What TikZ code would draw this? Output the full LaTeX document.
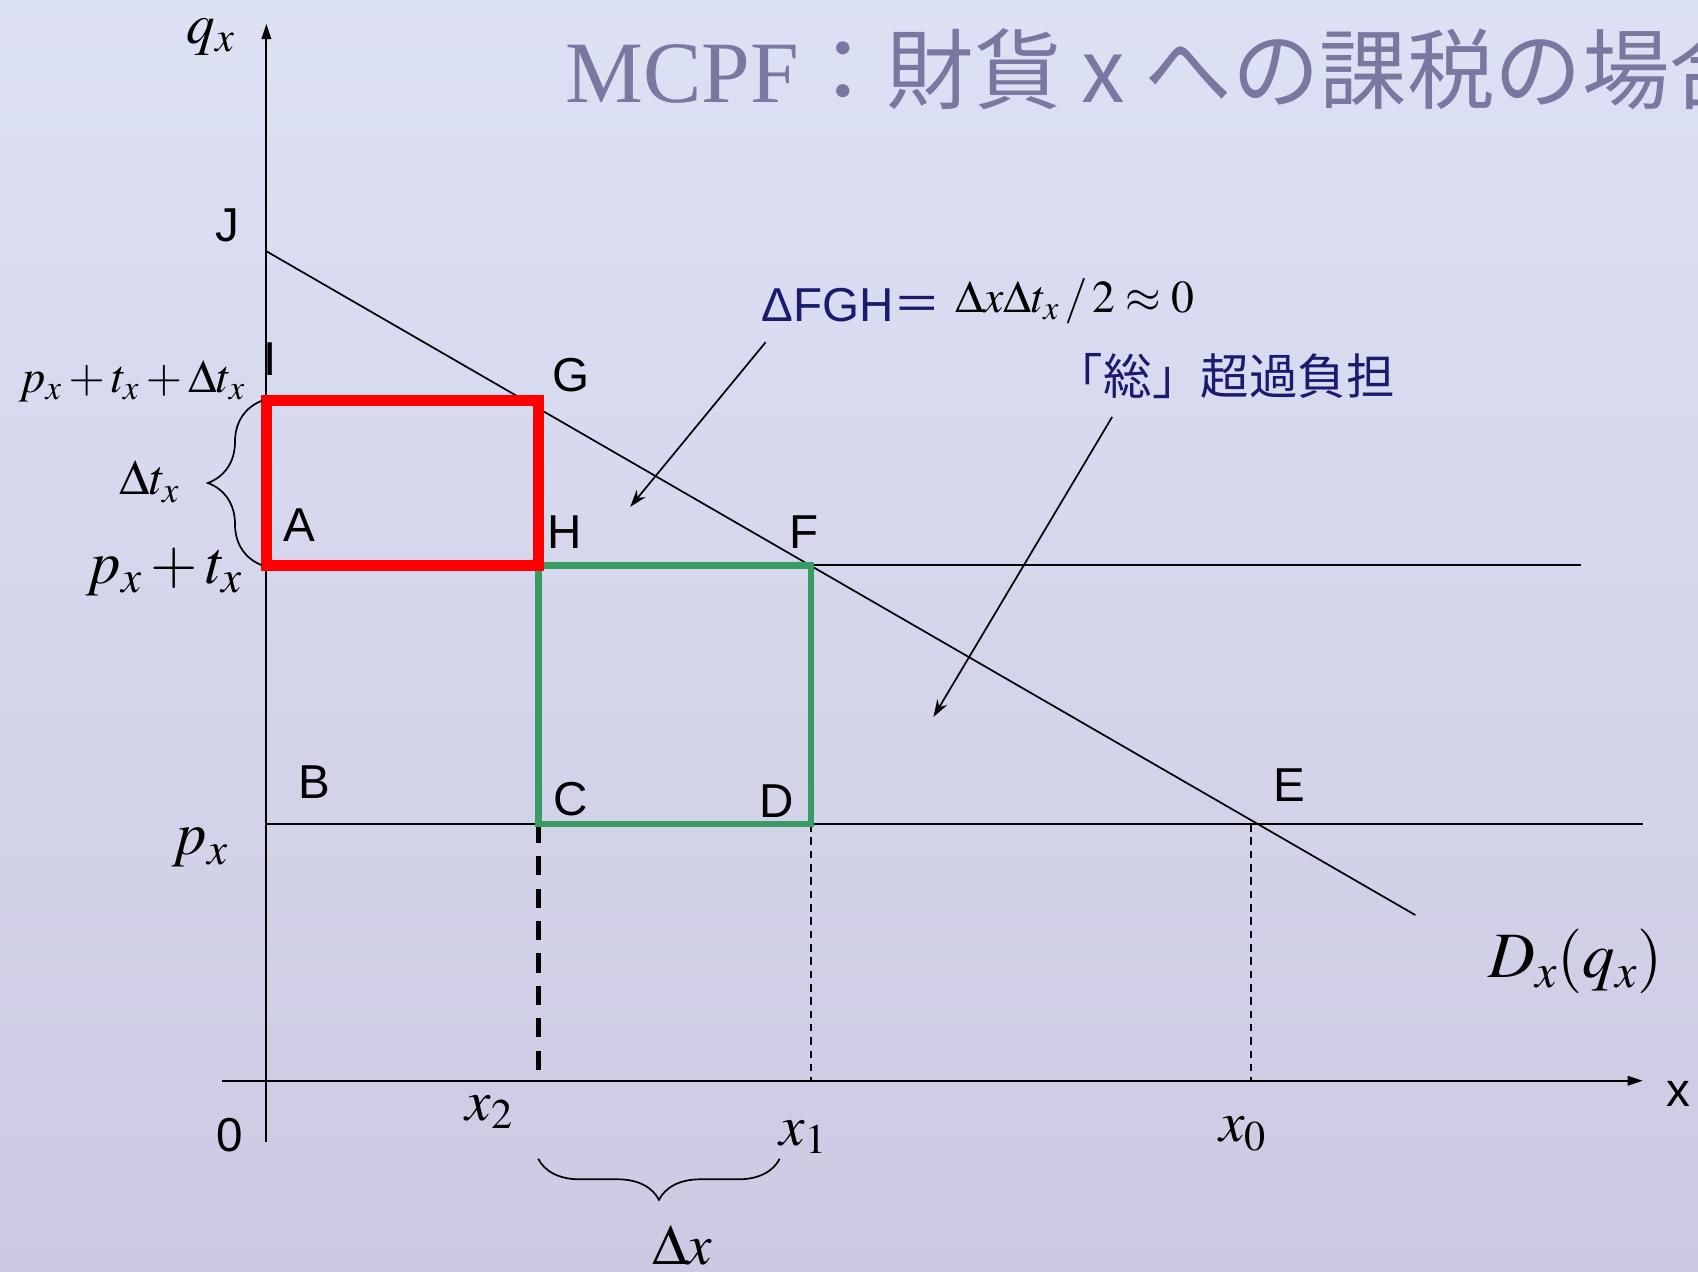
\documentclass[tikz,border=0pt]{standalone}
\usepackage{mathptmx}
\usepackage[no-math]{fontspec}
\setmainfont{Liberation Sans}
\newfontfamily\cjk{Noto Sans CJK JP}
\newfontfamily\serifL{Liberation Serif}
\usetikzlibrary{arrows.meta,decorations.pathreplacing}
\newcommand\myfs[1]{\fontsize{#1}{#1}\selectfont}
\definecolor{bgtop}{RGB}{221,225,244}
\definecolor{bgbot}{RGB}{204,202,227}
\definecolor{navy}{RGB}{26,26,110}
\definecolor{ttl}{RGB}{120,120,160}
\definecolor{grn}{RGB}{56,155,100}
\begin{document}
\begin{tikzpicture}[x=0.02cm,y=-0.02cm,
  lab/.style={font=\myfs{25}, text=black, inner sep=0},
  mlab/.style={inner sep=0, text=black},
  axline/.style={line width=1pt, -{Triangle[length=8pt,width=5pt]}},
  plain/.style={line width=0.9pt},
  thickdash/.style={line width=2.8pt, dash pattern=on 10pt off 7pt},
  thindash/.style={line width=0.8pt, dash pattern=on 4pt off 3pt},
  annarrow/.style={line width=0.9pt, -{Stealth[length=9pt,width=6pt]}},
  bracestyle/.style={line width=0.9pt, decorate},
]
\useasboundingbox (0,0) rectangle (1568,1174);
\shade[top color=bgtop, bottom color=bgbot] (0,0) rectangle (1568,1174);

% coordinates
\coordinate (O) at (246,998);
\coordinate (ytip) at (246,22);
\coordinate (ybot) at (246,1055);
\coordinate (xleft) at (205,998);
\coordinate (xtip) at (1517,998);
\coordinate (Jd) at (246,232);
\coordinate (Dend) at (1307,845);
\coordinate (Bl) at (246,761);
\coordinate (Br) at (1517,761);
\coordinate (Fl) at (749,522);
\coordinate (Fr) at (1460,522);
\coordinate (Rtl) at (246,370);
\coordinate (Rbr) at (497,522);
\coordinate (Gtl) at (497,522);
\coordinate (Gbr) at (749,761);
\coordinate (Cc) at (497,761);
\coordinate (X2) at (497,998);
\coordinate (Dd) at (749,761);
\coordinate (X1) at (749,998);
\coordinate (Ee) at (1155,761);
\coordinate (X0) at (1155,998);

% axes
\draw[axline] (ybot) -- (ytip);
\draw[axline] (xleft) -- (xtip);

% lines
\draw[plain] (Bl) -- (Br);
\draw[plain] (Fl) -- (Fr);
\draw[plain] (Jd) -- (Dend);

% dashed
\draw[thickdash] (Cc) -- (X2);
\draw[thindash] (Dd) -- (X1);
\draw[thindash] (Ee) -- (X0);

% rectangles
\draw[grn, line width=3.5pt] (Gtl) rectangle (Gbr);
\draw[red, line width=5.7pt] (Rtl) rectangle (Rbr);

% braces
\draw[bracestyle, decoration={brace, amplitude=1cm}] (242,522) -- (242,370);
\draw[bracestyle, decoration={brace, amplitude=0.76cm}] (720,1070) -- (497,1070);

% letter labels
\node[lab] (J) at (210,208) {J};
\node[lab] (I) at (249,332) {I};
\node[lab] (G) at (527,346) {G};
\node[lab] (A) at (276,485) {A};
\node[lab] (H) at (521,491) {H};
\node[lab] (F) at (742,491) {F};
\node[lab] (B) at (290,722) {B};
\node[lab] (C) at (527,738) {C};
\node[lab] (D) at (717,740) {D};
\node[lab] (E) at (1191,725) {E};
\node[lab] (zero) at (212,1048) {0};
\node[lab] (xl) at (1550,1010) {x};

% math labels
\node[mlab, font=\myfs{30}] (qx) at (195,34) {$q_x$};
\node[mlab, font=\myfs{24.5}] (pttl) at (122,352) {$p_x+t_x+\Delta t_x$};
\node[mlab, font=\myfs{26}] (dtl) at (138,445) {$\Delta t_x$};
\node[mlab, font=\myfs{32}] (ptl) at (152,528) {$p_x+t_x$};
\node[mlab, font=\myfs{32}] (pl) at (185,783) {$p_x$};
\node[mlab, font=\myfs{30}] (x2l) at (452,1027) {$x_2$};
\node[mlab, font=\myfs{30}] (x1l) at (742,1050) {$x_1$};
\node[mlab, font=\myfs{30}] (x0l) at (1148,1047) {$x_0$};
\node[mlab, font=\myfs{30}] (dxl) at (630,1150) {$\Delta x$};
\node[mlab, font=\myfs{34}] (Dl) at (1455,888) {$D_x(q_x)$};

% title
\node[inner sep=0, anchor=base west, text=ttl] (title) at (522,95)
  {\myfs{46}\serifL MCPF\cjk ：財貨 x への課税の場合};

% annotations
\node[inner sep=0, anchor=west, text=navy, font=\myfs{25}] (fgh) at (703,282) {ΔFGH\cjk ＝};
\node[mlab, anchor=west, font=\myfs{24}] (fghm) at (882,278) {$\Delta x\Delta t_x\,/\,2\approx 0$};
\node[inner sep=0, text=navy, font=\cjk\myfs{25.5}] (soj) at (1131,347) {「総」超過負担};

\coordinate (a1s) at (707,316);
\coordinate (a1e) at (582,468);
\coordinate (a2s) at (1027,385);
\coordinate (a2e) at (862,662);
\draw[annarrow] (a1s) -- (a1e);
\draw[annarrow] (a2s) -- (a2e);
\end{tikzpicture}
\end{document}
